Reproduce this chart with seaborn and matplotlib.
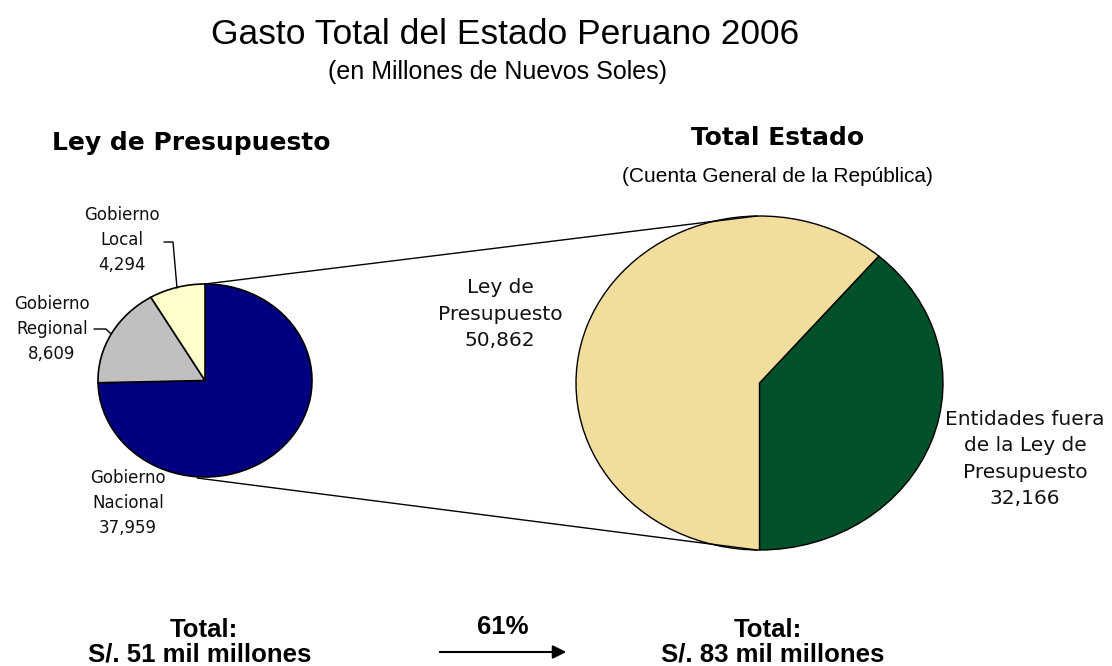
import matplotlib
matplotlib.use("Agg")
import matplotlib.pyplot as plt
import seaborn as sns

# data
left_labels = ["Gobierno\nNacional", "Gobierno\nRegional", "Gobierno\nLocal"]
left_values = [37959, 8609, 4294]
left_colors = ["#000080", "#C0C0C0", "#FFFFCC"]

right_labels = ["Entidades fuera\nde la Ley de\nPresupuesto", "Ley de\nPresupuesto"]
right_values = [32166, 50862]
right_colors = ["#00502A", "#F2DE9C"]

total_left = "S/. 51 mil millones"
total_right = "S/. 83 mil millones"
growth = "61%"

sns.set_theme(style="white")
plt.rcParams["font.family"] = ["Liberation Sans", "DejaVu Sans"]
plt.rcParams["text.color"] = "black"

W, H = 1112, 666
fig = plt.figure(figsize=(W / 100, H / 100), dpi=100)


def box(x0, y0, x1, y1):
    return [x0 / W, 1 - y1 / H, (x1 - x0) / W, (y1 - y0) / H]


# left pie
axl = fig.add_axes(box(98, 284, 312, 477))
axl.pie(left_values, colors=left_colors, startangle=90, counterclock=False,
        wedgeprops=dict(edgecolor="black", linewidth=1.2))
axl.set_aspect("auto")
axl.set_xlim(-1, 1)
axl.set_ylim(-1, 1)

# right pie
axr = fig.add_axes(box(576, 216, 943, 550))
axr.pie(right_values, colors=right_colors, startangle=-90, counterclock=True,
        wedgeprops=dict(edgecolor="black", linewidth=1))
axr.set_aspect("auto")
axr.set_xlim(-1, 1)
axr.set_ylim(-1, 1)

# overlay axes in pixel coords (y down), on top of the pies
ax0 = fig.add_axes([0, 0, 1, 1])
ax0.set_xlim(0, W)
ax0.set_ylim(H, 0)
ax0.axis("off")
ax0.set_zorder(5)

# connector lines
ax0.plot([205, 757], [284, 216], color="black", lw=1)
ax0.plot([197, 757], [478, 550], color="black", lw=1)

# titles
ax0.text(505, 35, "Gasto Total del Estado Peruano 2006", ha="center", va="center", fontsize=25.5)
ax0.text(497, 72, "(en Millones de Nuevos Soles)", ha="center", va="center", fontsize=18)
ax0.text(191, 143, "Ley de Presupuesto", ha="center", va="center", fontsize=18,
         fontweight="bold", family="DejaVu Sans")
ax0.text(778, 138, "Total Estado", ha="center", va="center", fontsize=18,
         fontweight="bold", family="DejaVu Sans")
ax0.text(777, 176, "(Cuenta General de la República)", ha="center", va="center", fontsize=15)

# slice labels
lab_kw = dict(ha="center", va="center", family="DejaVu Sans", color="#111111")
left_pos = [(128, 503), (52, 329), (122, 240)]
for lab, v, (x, y) in zip(left_labels, left_values, left_pos):
    ax0.text(x, y, f"{lab}\n{v:,}", fontsize=12, linespacing=1.5, **lab_kw)

right_pos = [(1025, 459), (500, 314)]
for lab, v, (x, y) in zip(right_labels, right_values, right_pos):
    ax0.text(x, y, f"{lab}\n{v:,}", fontsize=14.5, linespacing=1.5, **lab_kw)

# leader lines
ax0.plot([164, 173, 177], [242, 242, 288], color="black", lw=1)
ax0.plot([94, 106, 111], [329, 329, 334], color="black", lw=1)

# totals
bold = dict(ha="center", va="center", fontsize=18.5, fontweight="bold")
ax0.text(204, 630, "Total:", **bold)
ax0.text(200, 655, total_left, **bold)
ax0.text(768, 630, "Total:", **bold)
ax0.text(773, 655, total_right, **bold)
ax0.text(503, 627, growth, **bold)
ax0.annotate("", xy=(569, 652), xytext=(437, 652),
             arrowprops=dict(arrowstyle="-|>", color="black", lw=1.5, mutation_scale=20))

fig.savefig("out.png", dpi=100)
